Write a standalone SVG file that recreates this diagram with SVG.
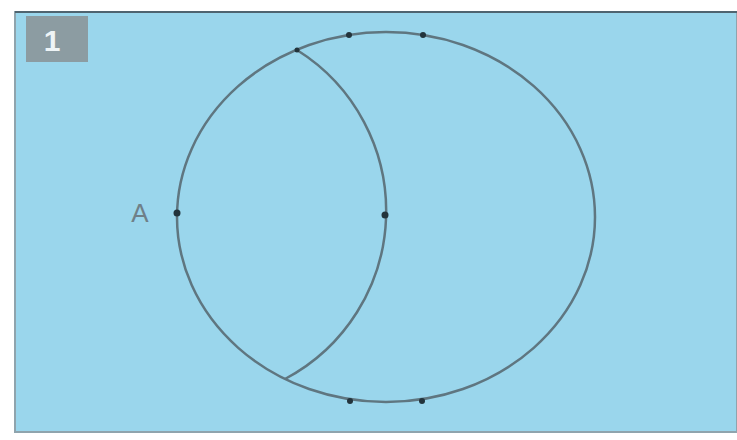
<svg xmlns="http://www.w3.org/2000/svg" width="737" height="440" viewBox="0 0 737 440">
<style>
.ln{fill:none;stroke:#5f7680;stroke-width:2.5}
.dot{fill:#23343c}
.lbl{font-family:"Liberation Sans",Arial,sans-serif}
</style>
<rect x="0" y="0" width="737" height="440" fill="#ffffff"/>
<g id="frame">
<rect x="15" y="12" width="722" height="420" fill="#9ad6ec" stroke="#8fa4ad" stroke-width="2"/>
<line x1="15" y1="12" x2="737" y2="12" stroke="#4f6470" stroke-width="2"/>
</g>
<g id="badge">
<rect x="26" y="16" width="62" height="46" fill="#8c9ca2"/>
<text class="lbl" x="52" y="51" font-size="30" font-weight="bold" fill="#eef4f6" text-anchor="middle">1</text>
</g>
<g id="connectors">
<ellipse id="outer" class="ln" cx="386" cy="217" rx="209" ry="185"/>
<path id="inner" class="ln" d="M297,50 A190,190 0 0,1 285,379"/>
</g>
<g id="pointA">
<text class="lbl" x="140" y="222" font-size="26" fill="#6f8088" text-anchor="middle">A</text>
<circle class="dot" cx="177" cy="213" r="3.5"/>
</g>
<g id="pointB"><circle class="dot" cx="385" cy="215" r="3.5"/></g>
<g id="marks">
<circle class="dot" cx="349" cy="35" r="3"/>
<circle class="dot" cx="423" cy="35" r="3"/>
<circle class="dot" cx="297" cy="50" r="2.5"/>
<circle class="dot" cx="350" cy="401" r="3"/>
<circle class="dot" cx="422" cy="401" r="3"/>
</g>
</svg>
